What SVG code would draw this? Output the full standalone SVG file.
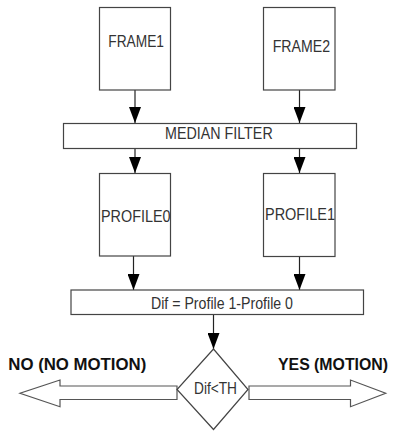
<svg xmlns="http://www.w3.org/2000/svg" width="393" height="432" viewBox="0 0 393 432">
  <style>
    .box { fill: #ffffff; stroke: #444444; stroke-width: 1.2; }
    .lbl { font-family: "Liberation Sans", Arial, sans-serif; font-size: 16px; fill: #333333; }
    .wire { stroke: #222222; stroke-width: 1.2; fill: none; marker-end: url(#head); }
    .big { fill: #ffffff; stroke: #555555; stroke-width: 1.2; stroke-linejoin: miter; }
    .out { font-family: "Liberation Sans", Arial, sans-serif; font-weight: bold; font-size: 16px; fill: #111111; }
  </style>
  <defs>
    <marker id="head" viewBox="0 -6 16 12" refX="16" refY="0" markerWidth="16" markerHeight="12" markerUnits="userSpaceOnUse" orient="auto">
      <path d="M0,-6 L16,0 L0,6 z" fill="#000000"/>
    </marker>
  </defs>

  <rect width="393" height="432" fill="#ffffff"/>

  <!-- connectors -->
  <g id="connectors">
    <line class="wire" x1="135" y1="90" x2="135" y2="123"/>
    <line class="wire" x1="299.5" y1="90" x2="299.5" y2="123"/>
    <line class="wire" x1="135" y1="148" x2="135" y2="173"/>
    <line class="wire" x1="299.5" y1="148" x2="299.5" y2="173"/>
    <line class="wire" x1="133.5" y1="256" x2="133.5" y2="290"/>
    <line class="wire" x1="299.5" y1="256.5" x2="299.5" y2="290"/>
    <line class="wire" x1="213.5" y1="314" x2="213.5" y2="349"/>
    <!-- outcome block arrows -->
    <path class="big" d="M177,386 L60,386 L60,380 L20,393.3 L60,406.7 L60,399.5 L177,399.5 Z"/>
    <path class="big" d="M249,386 L350.5,386 L350.5,380 L385.7,393.3 L350.5,406.7 L350.5,399.5 L249,399.5 Z"/>
  </g>

  <g id="frame1">
    <rect class="box" x="99.5" y="7.5" width="71" height="82.5"/>
    <text class="lbl" x="108.3" y="46.7" textLength="55.7" lengthAdjust="spacingAndGlyphs">FRAME1</text>
  </g>

  <g id="frame2">
    <rect class="box" x="263.5" y="7.5" width="71.5" height="82.5"/>
    <text class="lbl" x="272.7" y="51.7" textLength="57.3" lengthAdjust="spacingAndGlyphs">FRAME2</text>
  </g>

  <g id="median-filter">
    <rect class="box" x="63.5" y="123.5" width="293" height="25"/>
    <text class="lbl" x="165" y="138.5" textLength="107.7" lengthAdjust="spacingAndGlyphs">MEDIAN FILTER</text>
  </g>

  <g id="profile0">
    <rect class="box" x="99.5" y="173.5" width="71" height="82.5"/>
    <text class="lbl" x="101" y="221.7" textLength="69.5" lengthAdjust="spacingAndGlyphs">PROFILE0</text>
  </g>

  <g id="profile1">
    <rect class="box" x="263.5" y="173.5" width="71.5" height="83"/>
    <text class="lbl" x="265" y="220" textLength="70" lengthAdjust="spacingAndGlyphs">PROFILE1</text>
  </g>

  <g id="difference">
    <rect class="box" x="71" y="290" width="292.5" height="24.5"/>
    <text class="lbl" x="151" y="309" textLength="142" lengthAdjust="spacingAndGlyphs">Dif = Profile 1-Profile 0</text>
  </g>

  <g id="decision">
    <polygon class="box" points="213.5,349 248,389.5 213.5,429.5 177,389.5"/>
    <text class="lbl" x="194" y="394.3" textLength="43" lengthAdjust="spacingAndGlyphs">Dif&lt;TH</text>
  </g>

  <g id="no-label">
    <text class="out" x="8.3" y="370" textLength="138" lengthAdjust="spacingAndGlyphs">NO (NO MOTION)</text>
  </g>

  <g id="yes-label">
    <text class="out" x="278" y="370" textLength="110" lengthAdjust="spacingAndGlyphs">YES (MOTION)</text>
  </g>
</svg>
